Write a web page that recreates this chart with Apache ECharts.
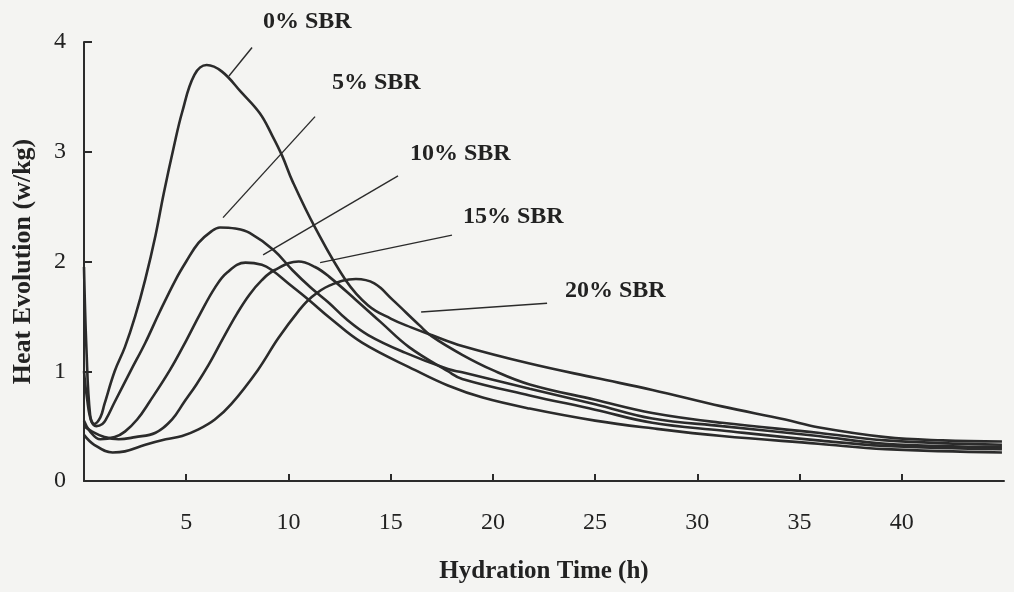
<!DOCTYPE html>
<html>
<head>
<meta charset="utf-8">
<script src="https://cdn.jsdelivr.net/npm/echarts@6/dist/echarts.min.js"></script>
<style>
html,body{margin:0;padding:0;background:#f4f4f2;}
#chart{width:1014px;height:592px;}
</style>
</head>
<body>
<div id="chart"></div>
<script>
// Hydration time (h), heat evolution (w/kg)
const sbr0 = [[0,1.95],[0.12,1.2],[0.3,0.6],[0.5,0.52],[0.8,0.58],[1.0,0.70],[1.5,1.0],[2.0,1.22],[2.5,1.5],[3.0,1.84],[3.5,2.24],[3.9,2.62],[4.4,3.05],[4.8,3.36],[5.4,3.70],[6.0,3.79],[6.75,3.73],[7.7,3.54],[8.6,3.35],[9.2,3.15],[9.7,2.96],[10.2,2.73],[11.3,2.31],[12.8,1.83],[13.9,1.60],[15.0,1.48],[16.0,1.40],[17.0,1.33],[18.5,1.23],[21.8,1.07],[25.0,0.94],[27.8,0.83],[31.2,0.68],[34.3,0.56],[35.9,0.49],[39.2,0.40],[42.0,0.37],[44.9,0.36]];
const sbr5 = [[0,1.0],[0.15,0.75],[0.35,0.55],[0.6,0.5],[0.9,0.52],[1.1,0.57],[1.5,0.72],[2.3,1.01],[3.0,1.26],[3.7,1.54],[4.5,1.84],[5.0,2.0],[5.6,2.17],[6.2,2.27],[6.65,2.31],[7.4,2.30],[8.1,2.26],[9.3,2.10],[10.2,1.92],[11.1,1.76],[12.0,1.62],[12.8,1.48],[13.9,1.33],[15.7,1.17],[17.8,1.02],[18.5,0.99],[21.8,0.84],[25.0,0.70],[27.8,0.57],[31.2,0.50],[35.9,0.41],[39.2,0.34],[44.9,0.31]];
const sbr10 = [[0,0.55],[0.3,0.45],[0.8,0.38],[1.5,0.40],[2.0,0.45],[2.6,0.56],[3.2,0.72],[4.2,1.01],[5.0,1.28],[5.7,1.53],[6.4,1.76],[7.0,1.90],[7.9,1.99],[8.7,1.97],[9.2,1.92],[10.0,1.80],[11.0,1.65],[12.0,1.49],[13.6,1.26],[16.2,1.01],[17.8,0.87],[19.5,0.76],[21.8,0.66],[25.0,0.55],[27.8,0.48],[31.2,0.41],[35.9,0.34],[39.2,0.29],[44.9,0.26]];
const sbr15 = [[0,0.5],[0.4,0.45],[1.0,0.40],[1.7,0.38],[2.5,0.40],[3.5,0.44],[4.3,0.56],[4.9,0.72],[5.5,0.88],[6.1,1.06],[6.8,1.30],[7.5,1.53],[8.1,1.70],[8.7,1.83],[9.3,1.92],[10.5,2.00],[11.3,1.95],[12.0,1.86],[13.3,1.65],[14.5,1.45],[15.9,1.22],[17.8,1.00],[18.5,0.93],[21.8,0.78],[25.0,0.65],[27.8,0.53],[31.2,0.46],[35.9,0.37],[39.2,0.32],[44.9,0.29]];
const sbr20 = [[0,0.42],[0.5,0.33],[1.4,0.26],[2.0,0.27],[3.0,0.33],[4.0,0.38],[4.8,0.41],[5.6,0.47],[6.4,0.56],[7.2,0.70],[8.5,1.01],[9.5,1.30],[10.5,1.55],[11.1,1.67],[12.0,1.78],[13.3,1.84],[14.2,1.80],[15.1,1.65],[16.4,1.42],[17.0,1.32],[18.5,1.15],[20.0,1.01],[21.8,0.88],[25.0,0.74],[27.8,0.62],[31.2,0.53],[35.9,0.44],[39.2,0.37],[44.9,0.33]];

const seriesNames = ['0% SBR','5% SBR','10% SBR','15% SBR','20% SBR'];
const seriesData = [sbr0, sbr5, sbr10, sbr15, sbr20];
// leader lines: [label end], [curve end] in data units
const leaders = [
  [[8.22,3.95],[7.09,3.69]],
  [[11.30,3.32],[6.80,2.40]],
  [[15.36,2.78],[8.76,2.06]],
  [[18.00,2.24],[11.55,1.99]],
  [[22.65,1.62],[16.49,1.54]]
];
const labelPos = [[263,22],[332,83],[410,154],[463,217],[565,291]];

const ink = '#2b2b2b';
const serif = '"Liberation Serif","Times New Roman",serif';

const series = seriesData.map((d, i) => ({
  name: seriesNames[i],
  type: 'line',
  data: d,
  showSymbol: false,
  smooth: 0.4,
  lineStyle: {color: ink, width: 2.6},
  itemStyle: {color: ink},
  z: 3
}));
series[0].markLine = {
  silent: true,
  symbol: 'none',
  label: {show: false},
  lineStyle: {color: ink, width: 1.4, type: 'solid'},
  data: leaders.map(l => [{coord: l[0]}, {coord: l[1]}])
};

const chart = echarts.init(document.getElementById('chart'));
chart.setOption({
  animation: false,
  backgroundColor: '#f4f4f2',
  grid: {left: 84, right: 10, top: 42, bottom: 111},
  xAxis: {
    type: 'value', min: 0, max: 45, interval: 5,
    name: 'Hydration Time (h)', nameLocation: 'middle', nameGap: 78,
    nameTextStyle: {fontFamily: serif, fontSize: 25, fontWeight: 'bold', color: '#222'},
    axisLine: {lineStyle: {color: ink, width: 2}},
    axisTick: {inside: true, length: 7, lineStyle: {color: ink, width: 2}},
    axisLabel: {margin: 30, fontFamily: serif, fontSize: 24, color: '#222', showMinLabel: false, showMaxLabel: false},
    splitLine: {show: false}
  },
  yAxis: {
    type: 'value', min: 0, max: 4, interval: 1,
    name: 'Heat Evolution (w/kg)', nameLocation: 'middle', nameGap: 48, nameRotate: 90,
    nameTextStyle: {fontFamily: serif, fontSize: 26, fontWeight: 'bold', color: '#222'},
    axisLine: {show: true, lineStyle: {color: ink, width: 2}},
    axisTick: {show: true, inside: true, length: 8, lineStyle: {color: ink, width: 2}},
    axisLabel: {margin: 18, fontFamily: serif, fontSize: 24, color: '#222'},
    splitLine: {show: false}
  },
  graphic: seriesNames.map((n, i) => ({
    type: 'text', left: labelPos[i][0], top: labelPos[i][1] - 12,
    style: {text: n, font: 'bold 24px ' + serif, fill: '#222'}
  })),
  series: series
});
</script>
</body>
</html>
